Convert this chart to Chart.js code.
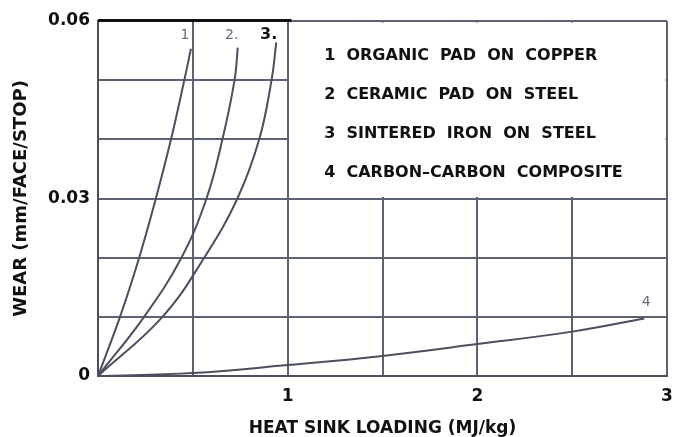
<!DOCTYPE html>
<html>
<head>
<meta charset="utf-8">
<script src="https://cdn.jsdelivr.net/npm/chart.js@4"></script>
<style>
  html, body { margin: 0; padding: 0; background: #fff; }
  #wrap { width: 673px; height: 437px; }
</style>
</head>
<body>
<div id="wrap"><canvas id="wearChart"></canvas></div>
<script>
/* Wear vs heat sink loading — four brake materials */

const seriesNames = ['1 ORGANIC PAD ON COPPER', '2 CERAMIC PAD ON STEEL', '3 SINTERED IRON ON STEEL', '4 CARBON\u2013CARBON COMPOSITE'];

// loading (MJ/kg) and wear (mm/face/stop)
const organicX  = [0, 0.116, 0.217, 0.305, 0.385, 0.455, 0.49];
const organicY  = [0, 0.01, 0.02, 0.03, 0.04, 0.05, 0.0553];
const ceramicX  = [0, 0.243, 0.44, 0.572, 0.656, 0.72, 0.737];
const ceramicY  = [0, 0.01, 0.02, 0.03, 0.04, 0.05, 0.0555];
const sinterX   = [0, 0.34, 0.56, 0.735, 0.85, 0.915, 0.94];
const sinterY   = [0, 0.01, 0.02, 0.03, 0.04, 0.05, 0.0564];
const carbonX   = [0, 0.5, 1, 1.5, 2, 2.5, 2.88];
const carbonY   = [0, 0.0005, 0.00185, 0.0034, 0.0054, 0.0075, 0.0097];

// curve number tags near the ends
const tagText = ['1', '2.', '3.', '4'];
const tagX    = [0.458, 0.705, 0.9, 2.89];
const tagY    = [0.0576, 0.0576, 0.0576, 0.0124];

const xTickLabels = [1, 2, 3];
const yTickLabels = [0, 0.03, 0.06];

const INK  = '#4b4f5e';
const GRID = '#5d6273';
const FONT = '"DejaVu Sans", sans-serif';

const pts = (xs, ys) => xs.map((v, i) => ({ x: v, y: ys[i] }));

const curve = (xs, ys) => ({
  data: pts(xs, ys),
  borderColor: INK,
  borderWidth: 2,
  pointRadius: 0,
  tension: 0.4,
  fill: false,
});

// white legend panel over the top-right grid cells, plus curve tags
const panelPlugin = {
  id: 'panel',
  beforeDatasetsDraw(chart) {
    const { ctx, scales: { x, y } } = chart;
    const l = x.getPixelForValue(1) + 1.5;
    const r = x.getPixelForValue(3) - 1.5;
    const t = y.getPixelForValue(0.06) + 1.5;
    const b = y.getPixelForValue(0.03) - 1.5;
    ctx.save();
    ctx.fillStyle = '#fff';
    ctx.fillRect(l, t, r - l, b - t);
    ctx.fillStyle = '#111';
    ctx.font = 'bold 16px ' + FONT;
    ctx.textBaseline = 'middle';
    seriesNames.forEach((s, i) => {
      ctx.fillText(s.replace(/ /g, '  '), l + 35, t + 33 + 39 * i);
    });
    ctx.restore();
  },
  afterDraw(chart) {
    const { ctx, scales: { x, y } } = chart;
    ctx.save();
    // heavy top rule over the left part
    ctx.strokeStyle = '#111';
    ctx.lineWidth = 3;
    ctx.beginPath();
    ctx.moveTo(x.getPixelForValue(0), y.getPixelForValue(0.06) - 0.5);
    ctx.lineTo(x.getPixelForValue(1.02), y.getPixelForValue(0.06) - 0.5);
    ctx.stroke();
    ctx.textAlign = 'center';
    ctx.textBaseline = 'middle';
    tagText.forEach((s, i) => {
      ctx.fillStyle = i === 2 ? '#111' : '#6a6e7c';
      ctx.font = (i === 2 ? 'bold 16px ' : '14px ') + FONT;
      ctx.fillText(s, x.getPixelForValue(tagX[i]), y.getPixelForValue(tagY[i]));
    });
    ctx.restore();
  }
};

new Chart(document.getElementById('wearChart'), {
  type: 'line',
  data: {
    datasets: [
      curve(organicX, organicY),
      curve(ceramicX, ceramicY),
      curve(sinterX, sinterY),
      curve(carbonX, carbonY),
    ]
  },
  options: {
    responsive: true,
    maintainAspectRatio: false,
    animation: false,
    events: [],
    layout: { padding: { top: 21, right: 6, left: 0, bottom: 0 } },
    plugins: {
      legend: { display: false },
      tooltip: { enabled: false }
    },
    scales: {
      x: {
        type: 'linear',
        min: 0, max: 3,
        afterFit: s => { s.height = 61; s.paddingLeft = 0; s.paddingRight = 0; },
        grid: { color: GRID, lineWidth: 2, drawTicks: false },
        border: { color: INK, width: 2 },
        ticks: {
          stepSize: 0.5,
          autoSkip: false,
          maxRotation: 0,
          padding: 10,
          color: '#111',
          font: { family: FONT, size: 17, weight: 'bold' },
          callback: v => xTickLabels.includes(v) ? String(v) : ''
        },
        title: {
          display: true,
          text: 'HEAT SINK LOADING (MJ/kg)',
          color: '#111',
          padding: { top: 0, bottom: 0 },
          font: { family: FONT, size: 17, weight: 'bold', lineHeight: 1 }
        }
      },
      y: {
        min: 0, max: 0.06,
        afterFit: s => { s.width = 98; s.paddingTop = 0; s.paddingBottom = 0; },
        grid: { color: GRID, lineWidth: 2, drawTicks: false },
        border: { color: INK, width: 2 },
        ticks: {
          stepSize: 0.01,
          autoSkip: false,
          padding: 8,
          color: '#111',
          font: { family: FONT, size: 17, weight: 'bold' },
          callback: v => {
            const hit = yTickLabels.find(t => Math.abs(t - v) < 1e-9);
            if (hit === undefined) return '';
            return hit === 0 ? '0' : hit.toFixed(2);
          }
        },
        title: {
          display: true,
          text: 'WEAR (mm/FACE/STOP)',
          color: '#111',
          padding: { top: 11, bottom: 0 },
          font: { family: FONT, size: 18, weight: 'bold', lineHeight: 1.2 }
        }
      }
    }
  },
  plugins: [panelPlugin]
});
</script>
</body>
</html>
